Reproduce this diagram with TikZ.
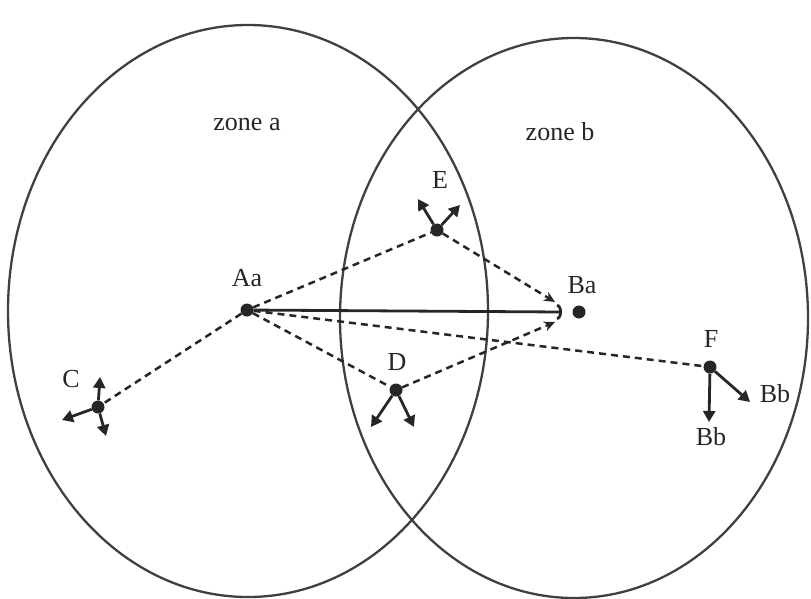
\documentclass[tikz,border=0pt]{standalone}
\usepackage{fontspec}
\setmainfont{Liberation Serif}
\usetikzlibrary{arrows.meta}
\begin{document}
\begin{tikzpicture}[x=1pt,y=-1pt,
  dot/.style={circle,fill=black!85,inner sep=0pt,minimum size=13pt},
  lbl/.style={font=\fontsize{26}{30}\selectfont,text=black!85,inner sep=0pt,anchor=base},
  zone/.style={draw=black!75,line width=2.3pt},
  dashline/.style={draw=black!85,line width=2.5pt,dash pattern=on 7pt off 5pt},
  vec/.style={draw=black!85,line width=2.8pt,-{Triangle[length=11pt,width=12pt]}},
  mainarrow/.style={draw=black!85,line width=2.8pt,-{Arc Barb[length=5pt,width=16pt]}},
  sidearrow/.style={-{Stealth[length=11pt,width=10pt]}}
]
\useasboundingbox (0,0) rectangle (811,598);
% zones
\draw[zone] (248,311) ellipse [x radius=240pt, y radius=286pt];
\draw[zone] (574,318) ellipse [x radius=234pt, y radius=280pt];
\node[lbl] (za) at (247,130) {zone a};
\node[lbl] (zb) at (560,140) {zone b};
% points
\node[dot] (Aa) at (247,310) {};
\node[dot] (Ba) at (579,312) {};
\node[dot] (E) at (437,230) {};
\node[dot] (D) at (396,390) {};
\node[dot] (C) at (98,407) {};
\node[dot] (F) at (710,367) {};
% labels
\node[lbl] (lAa) at (247,286) {Aa};
\node[lbl] (lBa) at (582,293) {Ba};
\node[lbl] (lE) at (440,188) {E};
\node[lbl] (lD) at (397,370) {D};
\node[lbl] (lC) at (71,387) {C};
\node[lbl] (lF) at (711,347) {F};
\node[lbl] (lBb1) at (775,402) {Bb};
\node[lbl] (lBb2) at (711,445) {Bb};
% arrow ends near Ba
\coordinate (tipE) at (555,302);
\coordinate (tipS) at (562,312);
\coordinate (tipD) at (555,322);
% small vectors
\coordinate (E1) at (418,199);
\coordinate (E2) at (460,205);
\coordinate (D1) at (371,427);
\coordinate (D2) at (414,427);
\coordinate (C1) at (100,377);
\coordinate (C2) at (62,420);
\coordinate (C3) at (106,436);
\coordinate (F1) at (709,422);
\coordinate (F2) at (750,402);
% connectors
\draw[dashline] (Aa) -- (C);
\draw[dashline] (Aa) -- (E);
\draw[dashline] (Aa) -- (D);
\draw[dashline] (Aa) -- (F);
\draw[dashline,sidearrow] (E) -- (tipE);
\draw[dashline,sidearrow] (D) -- (tipD);
\draw[mainarrow] (Aa) -- (tipS);
% vectors
\draw[vec] (E) -- (E1);
\draw[vec] (E) -- (E2);
\draw[vec] (D) -- (D1);
\draw[vec] (D) -- (D2);
\draw[vec] (C) -- (C1);
\draw[vec] (C) -- (C2);
\draw[vec] (C) -- (C3);
\draw[vec] (F) -- (F1);
\draw[vec] (F) -- (F2);
\end{tikzpicture}
\end{document}
